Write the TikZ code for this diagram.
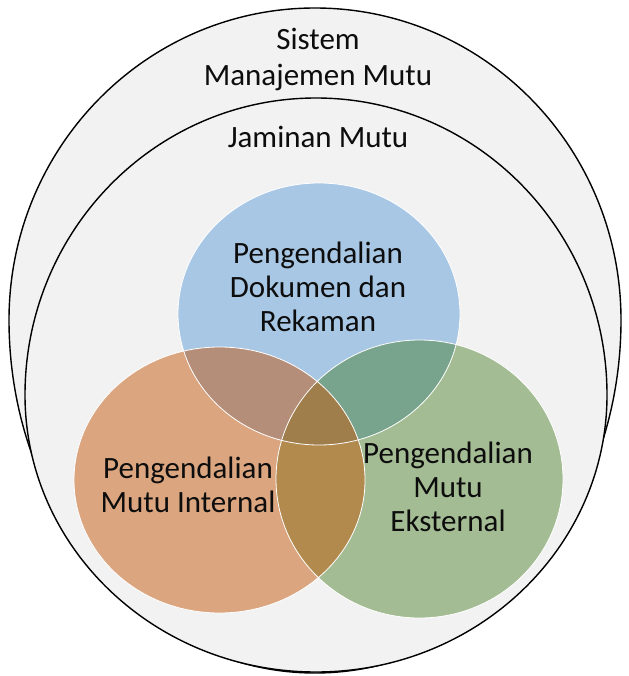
\documentclass[tikz,border=0pt]{standalone}
\usepackage{fontspec}
\setmainfont{Carlito}
\definecolor{ringfill}{HTML}{F2F2F2}
\definecolor{docblue}{HTML}{A8C7E5}
\definecolor{intorange}{HTML}{DBA580}
\definecolor{extgreen}{HTML}{A3BC93}
\definecolor{docint}{HTML}{B48E78}
\definecolor{docext}{HTML}{78A38C}
\definecolor{intext}{HTML}{B38A4E}
\definecolor{allthree}{HTML}{A07E4B}

\begin{document}
\begin{tikzpicture}[x=1pt, y=-1pt,
  ring/.style={draw=black, line width=1.4pt, fill=ringfill},
  rim/.style={draw=white, line width=0.8pt},
  lbl/.style={font=\fontsize{31}{34}\selectfont, align=center, text=black!95}
]
  \useasboundingbox (0,0) rectangle (628,676);
  % centres of the three circles
  \coordinate (doc) at (319,314);
  \coordinate (int) at (219.5,480);
  \coordinate (ext) at (419.5,479);
  \def\docpath{(doc) ellipse [x radius=141, y radius=131]}
  \def\intpath{(int) ellipse [x radius=145.5, y radius=133]}
  \def\extpath{(ext) ellipse [x radius=143.5, y radius=139]}

  % outer and inner rings
  \draw[ring] (9,320) arc[start angle=180, end angle=360, x radius=306, y radius=312]
    arc[start angle=0, end angle=180, x radius=306, y radius=353] -- cycle;
  \draw[ring] (25,395) arc[start angle=180, end angle=360, x radius=291, y radius=297]
    arc[start angle=0, end angle=180, x radius=291, y radius=277] -- cycle;

  % the three circles and their overlaps
  \fill[docblue] \docpath;
  \fill[intorange] \intpath;
  \fill[extgreen] \extpath;
  \begin{scope}
    \clip \docpath;
    \fill[docint] \intpath;
    \fill[docext] \extpath;
  \end{scope}
  \begin{scope}
    \clip \intpath;
    \fill[intext] \extpath;
    \clip \docpath;
    \fill[allthree] \extpath;
  \end{scope}
  \draw[rim] \docpath \intpath \extpath;

  \node[lbl, font=\fontsize{31}{36}\selectfont] (sms) at (318,59) {Sistem\\Manajemen Mutu};
  \node[lbl] (jm) at (318,137) {Jaminan Mutu};
  \node[lbl] (pdr) at (318,287) {Pengendalian\\Dokumen dan\\Rekaman};
  \node[lbl] (pmi) at (188,485) {Pengendalian\\Mutu Internal};
  \node[lbl] (pme) at (448,487) {Pengendalian\\Mutu\\Eksternal};
\end{tikzpicture}
\end{document}
